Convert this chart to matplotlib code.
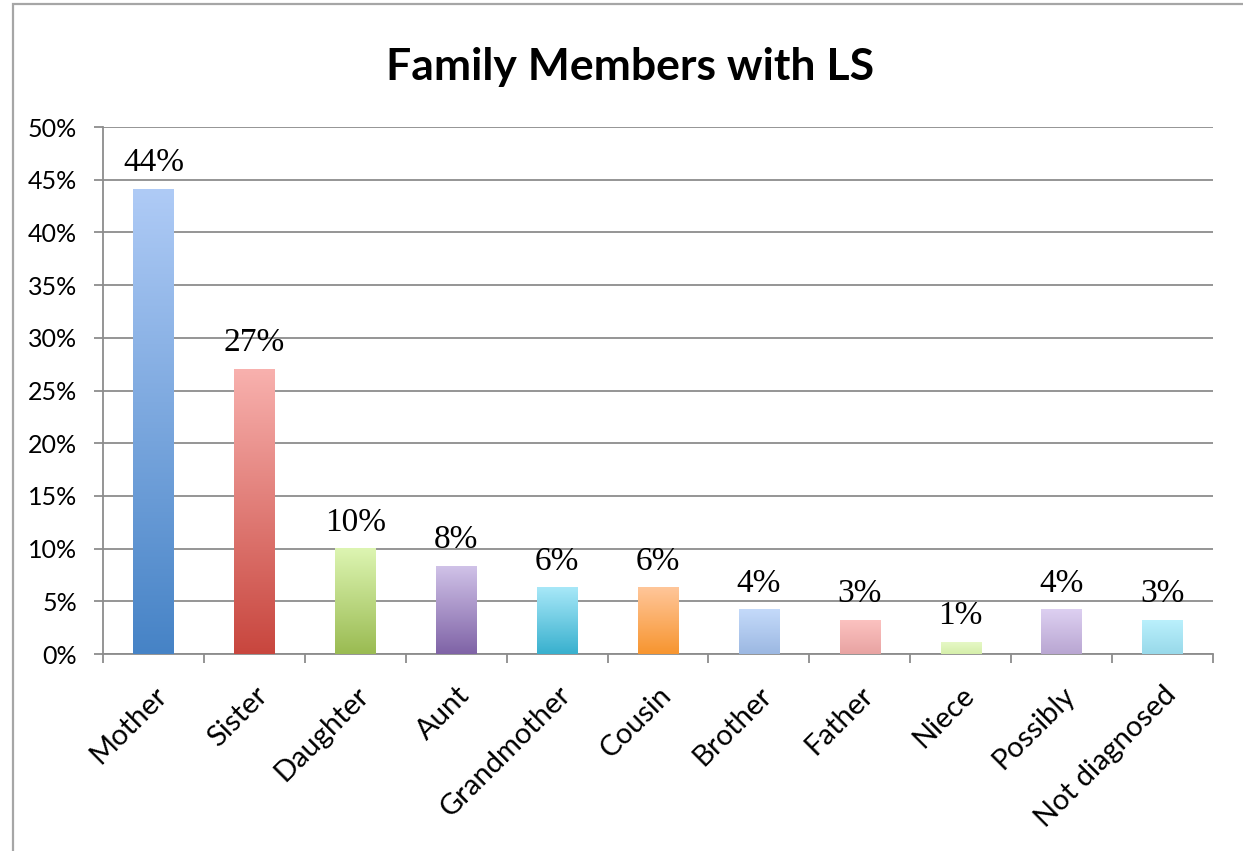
import numpy as np
import matplotlib
matplotlib.use("Agg")
import matplotlib.pyplot as plt
import matplotlib.transforms as mtransforms
from matplotlib.colors import to_rgb
from matplotlib.patches import Rectangle
from matplotlib.ticker import PercentFormatter, FixedLocator

plt.rcParams["font.family"] = ["Lato", "DejaVu Sans"]

categories = ["Mother", "Sister", "Daughter", "Aunt", "Grandmother", "Cousin",
              "Brother", "Father", "Niece", "Possibly", "Not diagnosed"]
values = [0.441, 0.270, 0.100, 0.083, 0.063, 0.063, 0.042, 0.032, 0.011, 0.042, 0.032]
top_colors = ["#AFCBF6", "#F8B1AE", "#DDF5B2", "#D0C2E8", "#A8E8F8", "#FFC69A",
              "#C4DAFA", "#FCC2C0", "#E6F8C6", "#DDD0F1", "#BAF0FC"]
bottom_colors = ["#4683C6", "#C8463E", "#9ABB52", "#7F63A6", "#38B0CE", "#F7952F",
                 "#9CB8E2", "#E8A3A2", "#D5EEAA", "#B9A6D2", "#98D9EA"]

fig = plt.figure(figsize=(12.43, 8.51), dpi=100)
ax = fig.add_axes([103 / 1243, 1 - 654 / 851, 1110 / 1243, 527 / 851])

# outer chart border (only top and left visible)
fig.patches.append(Rectangle((13 / 1243, -0.1), 1.2, 1.1 - 4 / 851, transform=fig.transFigure,
                             fill=False, edgecolor="#A6A6A6", linewidth=1.6))

bar_w = 0.4
x = np.arange(len(categories))
for i, v in enumerate(values):
    c0 = np.array(to_rgb(bottom_colors[i]))
    c1 = np.array(to_rgb(top_colors[i]))
    t = np.linspace(0, 1, 256)[:, None]
    grad = (c0 * (1 - t) + c1 * t)[:, None, :]
    ax.imshow(grad, extent=[x[i] - bar_w / 2, x[i] + bar_w / 2, 0, v], origin="lower",
              aspect="auto", zorder=3, interpolation="bilinear")
    ax.annotate(f"{round(v * 100)}%", xy=(x[i], v), xytext=(0, 13), textcoords="offset points",
                ha="center", va="baseline", fontsize=24, family="Liberation Serif", zorder=4)

ax.set_xlim(-0.5, len(categories) - 0.5)
ax.set_ylim(0, 0.5)
ax.set_yticks(np.arange(0, 0.51, 0.05))
ax.yaxis.set_major_formatter(PercentFormatter(1.0, decimals=0))
ax.grid(axis="y", color="#8C8C8C", linewidth=1.3, zorder=0)
ax.set_axisbelow(True)

ax.xaxis.set_major_locator(FixedLocator(x))
ax.set_xticklabels(categories, rotation=45, ha="right", rotation_mode="anchor", fontsize=21)
shift = mtransforms.ScaledTranslation(-5 / 100, 0, fig.dpi_scale_trans)
for lab in ax.get_xticklabels():
    lab.set_transform(lab.get_transform() + shift)
ax.xaxis.set_minor_locator(FixedLocator(np.arange(-0.5, len(categories), 1.0)))
ax.tick_params(axis="x", which="major", length=0, pad=20)
ax.tick_params(axis="x", which="minor", length=6.5, width=1.3, color="#8C8C8C", direction="out")
ax.tick_params(axis="y", length=6.5, width=1.3, color="#8C8C8C", labelsize=18, pad=12)

for s in ["top", "right"]:
    ax.spines[s].set_visible(False)
for s in ["left", "bottom"]:
    ax.spines[s].set_color("#8C8C8C")
    ax.spines[s].set_linewidth(1.3)

fig.text(630 / 1243, 1 - 80 / 851, "Family Members with LS", ha="center", va="baseline",
         fontsize=32, fontweight="bold")

fig.savefig("out.png", dpi=100)
